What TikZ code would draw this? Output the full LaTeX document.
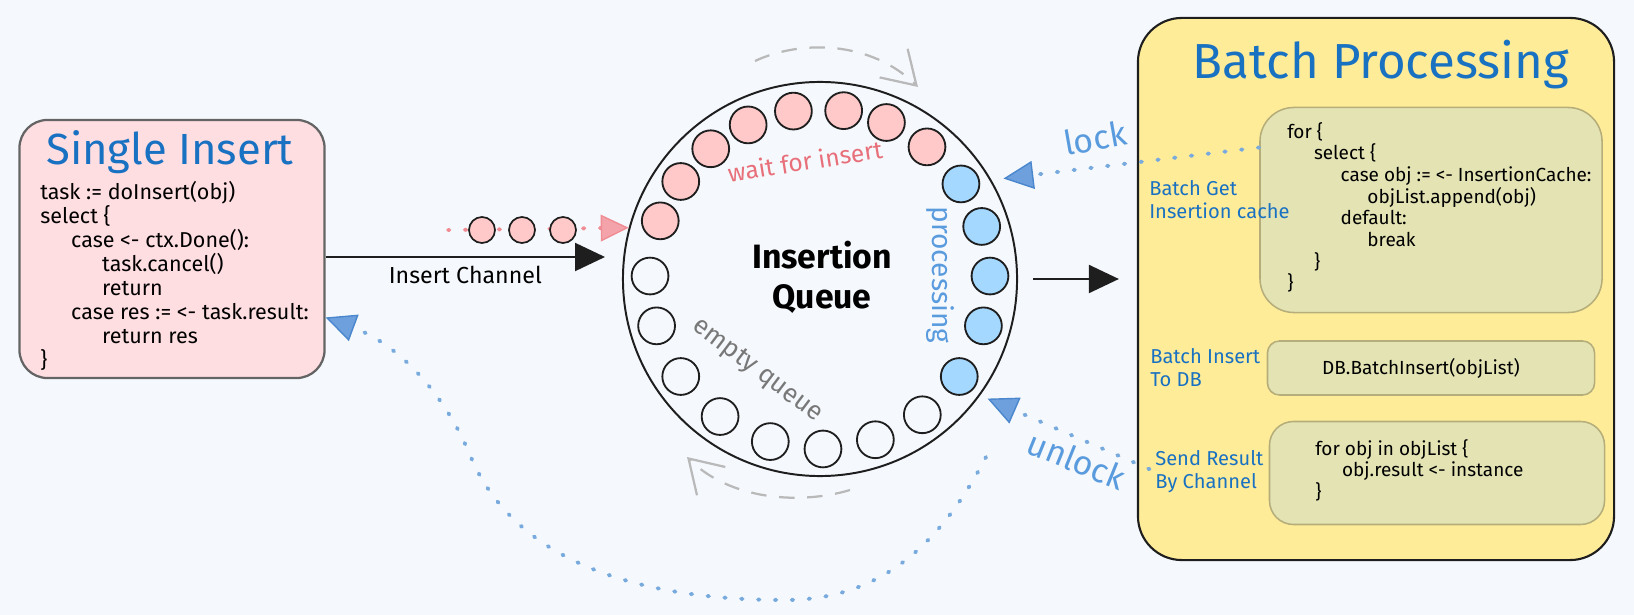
\documentclass[tikz,border=0pt]{standalone}
\usepackage{fontspec}
\setmainfont{Fira Sans}
\usetikzlibrary{arrows.meta}

\definecolor{bgblue}{RGB}{245,249,253}
\definecolor{pinkbox}{RGB}{255,222,226}
\definecolor{boxgrey}{RGB}{100,100,100}
\definecolor{titleblue}{RGB}{25,113,194}
\definecolor{pinkslot}{RGB}{255,201,201}
\definecolor{blueslot}{RGB}{165,216,255}
\definecolor{waitred}{RGB}{232,112,122}
\definecolor{procblue}{RGB}{90,155,222}
\definecolor{emptygrey}{RGB}{120,120,120}
\definecolor{spingrey}{RGB}{185,185,185}
\definecolor{dotblue}{RGB}{120,170,222}
\definecolor{headblue}{RGB}{110,160,222}
\definecolor{headedge}{RGB}{75,135,205}
\definecolor{dotred}{RGB}{240,140,148}
\definecolor{batchyellow}{RGB}{255,236,153}
\definecolor{codefill}{RGB}{227,227,180}
\definecolor{codeedge}{RGB}{182,174,122}
\definecolor{inkblack}{RGB}{30,30,30}

\begin{document}
\begin{tikzpicture}[x=0.025cm,y=-0.025cm,
    every node/.style={inner sep=0pt},
    slot/.style={circle,draw=inkblack,line width=1.3pt,minimum size=0.92cm},
    codebox/.style={draw=codeedge,fill=codefill,line width=1.1pt},
    codetext/.style={anchor=north west,align=left,font=\fontsize{13.5}{15.4}\selectfont},
    steplabel/.style={anchor=north west,align=left,text=titleblue,font=\fontsize{14.3}{16.5}\selectfont},
    dots/.style={line width=2.8pt,line cap=round,dash pattern=on 1pt off 11pt},
    bighead/.style={-{Triangle[length=0.75cm,width=0.7cm]},line width=1.5pt,draw=inkblack},
    bluehead/.style={-{Triangle[length=0.75cm,width=0.7cm,line width=1pt,color=headedge,fill=headblue]}},
    redhead/.style={-{Triangle[length=0.7cm,width=0.67cm,line width=1pt,fill=dotred!80]}},
    spin/.style={draw=spingrey,line width=1.6pt,dash pattern=on 11pt off 9pt,
        -{Straight Barb[length=0.8cm,width=1.0cm,line width=1.6pt]}}]

    \fill[bgblue] (0,0) rectangle (1634,615);
    \useasboundingbox (0,0) rectangle (1634,615);

    %%%%%%%%%%%%%%%%%%%%%%%%%%%%%%%%%%%
    % single insert
    \node[draw=boxgrey,fill=pinkbox,line width=1.6pt,rounded corners=0.7cm,
        minimum width=7.625cm,minimum height=6.45cm] (single) at (172,249) {};
    \node[text=titleblue,font=\fontsize{31}{34}\selectfont] (singletitle) at (170,152) {Single Insert};
    \node[anchor=north west,align=left,font=\fontsize{15.3}{17.1}\selectfont] (singlecode) at (40,181)
        {task := doInsert(obj)\\
         select \{\\
         \hspace*{22pt}case <- ctx.Done():\\
         \hspace*{44pt}task.cancel()\\
         \hspace*{44pt}return\\
         \hspace*{22pt}case res := <- task.result:\\
         \hspace*{44pt}return res\\
         \}};
    %%%%%%%%%%%%%%%%%%%%%%%%%%%%%%%%%%%

    %%%%%%%%%%%%%%%%%%%%%%%%%%%%%%%%%%%
    % insertion queue
    \node[circle,draw=inkblack,line width=1.4pt,minimum size=9.85cm] (queue) at (820,279) {};
    \node[align=center,font=\fontsize{24}{28.4}\selectfont\bfseries] (queuename) at (822,277) {Insertion\\Queue};

    \foreach \a in {160,145,130,115,99,82,67,51}
        \path (queue.center) ++(-\a:170) node[slot,fill=pinkslot] (wait\a) {};
    \foreach \a in {34,18,1,-16,-35}
        \path (queue.center) ++(-\a:170) node[slot,fill=blueslot] (busy\a) {};
    \foreach \a in {-53,-71,-89,-107,-126,-145,-164,179}
        \path (queue.center) ++(-\a:170) node[slot] (free\a) {};

    \node[text=waitred,rotate=9,font=\fontsize{17.5}{20}\selectfont] (waitlbl) at (805,161) {wait for insert};
    \node[text=procblue,rotate=-90,font=\fontsize{20}{22}\selectfont] (proclbl) at (940,275) {processing};
    \node[text=emptygrey,rotate=-37,font=\fontsize{18.5}{20}\selectfont] (emptylbl) at (757,371) {empty queue};

    % turning of the ring
    \draw[spin] (755,61) .. controls (800,40) and (870,40) .. (918,87);
    \draw[spin] (850,490) .. controls (800,505) and (730,500) .. (687,457);
    %%%%%%%%%%%%%%%%%%%%%%%%%%%%%%%%%%%

    %%%%%%%%%%%%%%%%%%%%%%%%%%%%%%%%%%%
    % insert channel
    \coordinate (chainstart) at (448,230);
    \draw[dots,draw=dotred,redhead] (chainstart) -- (queue.165);
    \foreach \x in {482,522,563}
        \node[circle,draw=inkblack,fill=pinkslot,line width=1.2pt,minimum size=0.65cm] (item\x) at (\x,230) {};

    \coordinate (chanend) at (605,257);
    \draw[bighead] (single.east |- chanend) -- (chanend)
        node[midway,below=0.2cm,font=\fontsize{16.5}{18}\selectfont] (chanlbl) {Insert Channel};
    %%%%%%%%%%%%%%%%%%%%%%%%%%%%%%%%%%%

    %%%%%%%%%%%%%%%%%%%%%%%%%%%%%%%%%%%
    % batch processing
    \node[draw=inkblack,fill=batchyellow,line width=1.5pt,rounded corners=1.1cm,
        minimum width=11.9cm,minimum height=13.55cm] (batch) at (1376,289) {};
    \node[text=titleblue,font=\fontsize{35}{40}\selectfont] (batchtitle) at (1381,65) {Batch Processing};

    \node[codebox,rounded corners=0.85cm,minimum width=8.55cm,minimum height=5.125cm] (getbox) at (1431,210) {};
    \node[codebox,rounded corners=0.3cm,minimum width=8.175cm,minimum height=1.35cm] (insbox) at (1431,368) {};
    \node[codebox,rounded corners=0.6cm,minimum width=8.375cm,minimum height=2.575cm] (sendbox) at (1437,473) {};

    \node[codetext] (getcode) at (1287,122)
        {for \{\\
         \hspace*{19pt}select \{\\
         \hspace*{38pt}case obj := <- InsertionCache:\\
         \hspace*{57pt}objList.append(obj)\\
         \hspace*{38pt}default:\\
         \hspace*{57pt}break\\
         \hspace*{19pt}\}\\
         \}};
    \node[font=\fontsize{13.5}{15.4}\selectfont] (inscode) at (1421,368) {DB.BatchInsert(objList)};
    \node[codetext] (sendcode) at (1315,439)
        {for obj in objList \{\\
         \hspace*{19pt}obj.result <- instance\\
         \}};

    \node[steplabel] (getlbl) at (1149,180) {Batch Get\\Insertion cache};
    \node[steplabel] (inslbl) at (1150,348) {Batch Insert\\To DB};
    \node[steplabel] (sendlbl) at (1155,450) {Send Result\\By Channel};

    % queue -> batch
    \draw[bighead,shorten <=0.38cm,shorten >=0.45cm] (queue.east) -- (queue.east -| batch.west);
    %%%%%%%%%%%%%%%%%%%%%%%%%%%%%%%%%%%

    %%%%%%%%%%%%%%%%%%%%%%%%%%%%%%%%%%%
    % lock / unlock
    \draw[dots,draw=dotblue,bluehead,shorten >=0.3cm] (getbox.160) -- (queue.30);
    \node[text=procblue,rotate=10,font=\fontsize{24}{28}\selectfont] (locklbl) at (1095,138) {lock};

    \draw[dots,draw=dotblue,bluehead,shorten <=0.15cm,shorten >=0.2cm] (sendlbl.west) -- (queue.-36);
    \node[text=procblue,rotate=-22,font=\fontsize{24}{28}\selectfont] (unlocklbl) at (1077,460) {unlock};

    % result back to caller
    \coordinate (retstart) at (986,457);
    \draw[dots,draw=dotblue,bluehead] (retstart) .. controls (940,545) and (880,600) .. (785,600)
        .. controls (600,600) and (505,540) .. (470,455)
        .. controls (445,395) and (400,345) .. (single.-24);
    %%%%%%%%%%%%%%%%%%%%%%%%%%%%%%%%%%%
\end{tikzpicture}
\end{document}
